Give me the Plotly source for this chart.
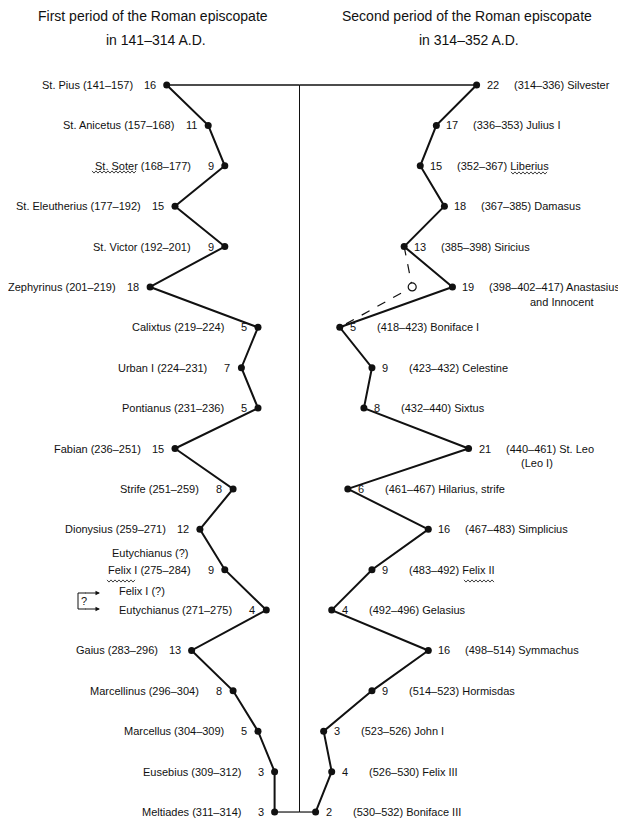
import plotly.graph_objects as go

# 第一期（左）與第二期（右）：每位主教在位年數，由上而下依序排列
FIRST_NAMES = [
    "St. Pius (141–157)", "St. Anicetus (157–168)", "St. Soter (168–177)",
    "St. Eleutherius (177–192)", "St. Victor (192–201)", "Zephyrinus (201–219)",
    "Calixtus (219–224)", "Urban I (224–231)", "Pontianus (231–236)",
    "Fabian (236–251)", "Strife (251–259)", "Dionysius (259–271)",
    "Felix I (275–284)", "Eutychianus (271–275)", "Gaius (283–296)",
    "Marcellinus (296–304)", "Marcellus (304–309)", "Eusebius (309–312)",
    "Meltiades (311–314)",
]
FIRST_YEARS = [16, 11, 9, 15, 9, 18, 5, 7, 5, 15, 8, 12, 9, 4, 13, 8, 5, 3, 3]

SECOND_NAMES = [
    "(314–336) Silvester", "(336–353) Julius I", "(352–367) Liberius",
    "(367–385) Damasus", "(385–398) Siricius", "(398–402–417) Anastasius",
    "(418–423) Boniface I", "(423–432) Celestine", "(432–440) Sixtus",
    "(440–461) St. Leo", "(461–467) Hilarius, strife", "(467–483) Simplicius",
    "(483–492) Felix II", "(492–496) Gelasius", "(498–514) Symmachus",
    "(514–523) Hormisdas", "(523–526) John I", "(526–530) Felix III",
    "(530–532) Boniface III",
]
SECOND_YEARS = [22, 17, 15, 18, 13, 19, 5, 9, 8, 21, 6, 16, 9, 4, 16, 9, 3, 4, 2]

# 虛線替代路徑：Siricius -> (空心點) -> Boniface I
ALT_ROWS = [4, 5, 6]
ALT_YEARS = [13, 14, 5]

ROWS = list(range(len(FIRST_YEARS)))

# 頁面 body 有 8px 預設邊距，圖縮小 8px，量到的座標也要扣掉 8
OFF = 8
W, H = 626 - OFF, 819 - OFF
ZERO_PX = 299.5 - OFF
PX_L, PX_R = 8.3, 8.05
ROW0, ROW_H = 85 - OFF, 40.39
FONT = "Liberation Sans, Arial, sans-serif"
INK = "#111111"


def px(x, y):
    """參考圖的像素座標 -> paper 座標。"""
    return (x - OFF) / W, 1 - (y - OFF) / H


def wavy(x0, x1, y, step=2.0, amp=1.1):
    pts = []
    x, k = x0, 0
    while x <= x1:
        pts.append(px(x, y + (amp if k % 2 else -amp)))
        x += step
        k += 1
    return "M " + " L ".join(f"{a:.5f},{b:.5f}" for a, b in pts)


fig = go.Figure()

line = dict(color=INK, width=2)
mark = dict(color=INK, size=7)

fig.add_trace(go.Scatter(x=FIRST_YEARS, y=ROWS, xaxis="x", yaxis="y",
                         mode="lines+markers", line=line, marker=mark))
fig.add_trace(go.Scatter(x=SECOND_YEARS, y=ROWS, xaxis="x2", yaxis="y",
                         mode="lines+markers", line=line, marker=mark))
fig.add_trace(go.Scatter(x=ALT_YEARS, y=ALT_ROWS, xaxis="x2", yaxis="y",
                         mode="lines", line=dict(color=INK, width=1.2, dash="dash")))
fig.add_trace(go.Scatter(x=[ALT_YEARS[1]], y=[ALT_ROWS[1]], xaxis="x2", yaxis="y",
                         mode="markers",
                         marker=dict(size=8, color="white", line=dict(color=INK, width=1.2))))

# 頂部橫線、底部橫線與中軸
thin = dict(color=INK, width=1.3)
fig.add_trace(go.Scatter(x=[FIRST_YEARS[0], 0], y=[0, 0], xaxis="x", yaxis="y",
                         mode="lines", line=thin))
fig.add_trace(go.Scatter(x=[0, SECOND_YEARS[0]], y=[0, 0], xaxis="x2", yaxis="y",
                         mode="lines", line=thin))
fig.add_trace(go.Scatter(x=[FIRST_YEARS[-1], 0], y=[ROWS[-1], ROWS[-1]], xaxis="x", yaxis="y",
                         mode="lines", line=dict(color=INK, width=1.2)))
fig.add_trace(go.Scatter(x=[0, SECOND_YEARS[-1]], y=[ROWS[-1], ROWS[-1]], xaxis="x2", yaxis="y",
                         mode="lines", line=dict(color=INK, width=1.2)))
fig.add_trace(go.Scatter(x=[0, 0], y=[ROWS[0], ROWS[-1]], xaxis="x", yaxis="y",
                         mode="lines", line=dict(color=INK, width=1)))

ann = []
lab = dict(family=FONT, size=11, color=INK)
for i, (name, v) in enumerate(zip(FIRST_NAMES, FIRST_YEARS)):
    ann.append(dict(x=v, y=i, xref="x", yref="y", text=str(v), xanchor="right",
                    xshift=-9, showarrow=False, font=lab))
    ann.append(dict(x=v, y=i, xref="x", yref="y", text=name, xanchor="right",
                    xshift=-32, showarrow=False, font=lab))
for i, (name, v) in enumerate(zip(SECOND_NAMES, SECOND_YEARS)):
    ann.append(dict(x=v, y=i, xref="x2", yref="y", text=str(v), xanchor="left",
                    xshift=8, showarrow=False, font=lab))
    ann.append(dict(x=v, y=i, xref="x2", yref="y", text=name, xanchor="left",
                    xshift=35, showarrow=False, font=lab))

ann.append(dict(x=SECOND_YEARS[5], y=5, xref="x2", yref="y", text="and Innocent",
                xanchor="left", xshift=76, yshift=-15, showarrow=False, font=lab))
ann.append(dict(x=SECOND_YEARS[9], y=9, xref="x2", yref="y", text="(Leo I)",
                xanchor="left", xshift=50, yshift=-14, showarrow=False, font=lab))

for txt, cx, cy in [("Eutychianus (?)", 150, 553), ("Felix I (?)", 142, 591), ("?", 84, 601)]:
    x, y = px(cx, cy)
    ann.append(dict(x=x, y=y, xref="paper", yref="paper", text=txt, showarrow=False,
                    xanchor="center", yanchor="middle", font=lab))

for ay_px in (593, 609):
    x, y = px(100, ay_px)
    ann.append(dict(x=x, y=y, xref="paper", yref="paper", text="", showarrow=True,
                    ax=-16, ay=0, arrowhead=2, arrowsize=0.9, arrowwidth=1, arrowcolor=INK))

ttl = dict(family=FONT, size=14, color=INK)
for txt, cx, cy in [
    ("First period of the Roman episcopate", 153, 16),
    ("in 141–314 A.D.", 156, 40),
    ("Second period of the Roman episcopate", 467, 16),
    ("in 314–352 A.D.", 469, 40),
]:
    x, y = px(cx, cy)
    ann.append(dict(x=x, y=y, xref="paper", yref="paper", text=txt, showarrow=False,
                    xanchor="center", yanchor="middle", font=ttl))

shapes = []
a, b = px(78, 593)
c, d = px(78, 609)
e, f = px(86, 593)
g, h = px(86, 609)
shapes.append(dict(type="path", xref="paper", yref="paper",
                   path=f"M {e},{f} L {a},{b} L {c},{d} L {g},{h}",
                   line=dict(color=INK, width=1)))
for x0, x1, y in [(92, 137, 172), (107, 136, 581), (511, 548, 173), (464, 494, 581)]:
    shapes.append(dict(type="path", xref="paper", yref="paper", path=wavy(x0, x1, y),
                       line=dict(color=INK, width=0.8)))

fig.update_layout(
    width=W,
    height=H,
    margin=dict(l=0, r=0, t=0, b=0, pad=0),
    paper_bgcolor="white",
    plot_bgcolor="rgba(0,0,0,0)",
    showlegend=False,
    xaxis=dict(domain=[0, (313 - OFF) / W], range=[ZERO_PX / PX_L, -(313 - OFF - ZERO_PX) / PX_L],
               visible=False, fixedrange=True),
    xaxis2=dict(domain=[(280 - OFF) / W, 1],
                range=[-(ZERO_PX - (280 - OFF)) / PX_R, (W - ZERO_PX) / PX_R],
                anchor="y", visible=False, fixedrange=True),
    yaxis=dict(domain=[0, 1], range=[(H - ROW0) / ROW_H, -ROW0 / ROW_H],
               visible=False, fixedrange=True),
    annotations=ann,
    shapes=shapes,
)

fig.write_html("out.html")
